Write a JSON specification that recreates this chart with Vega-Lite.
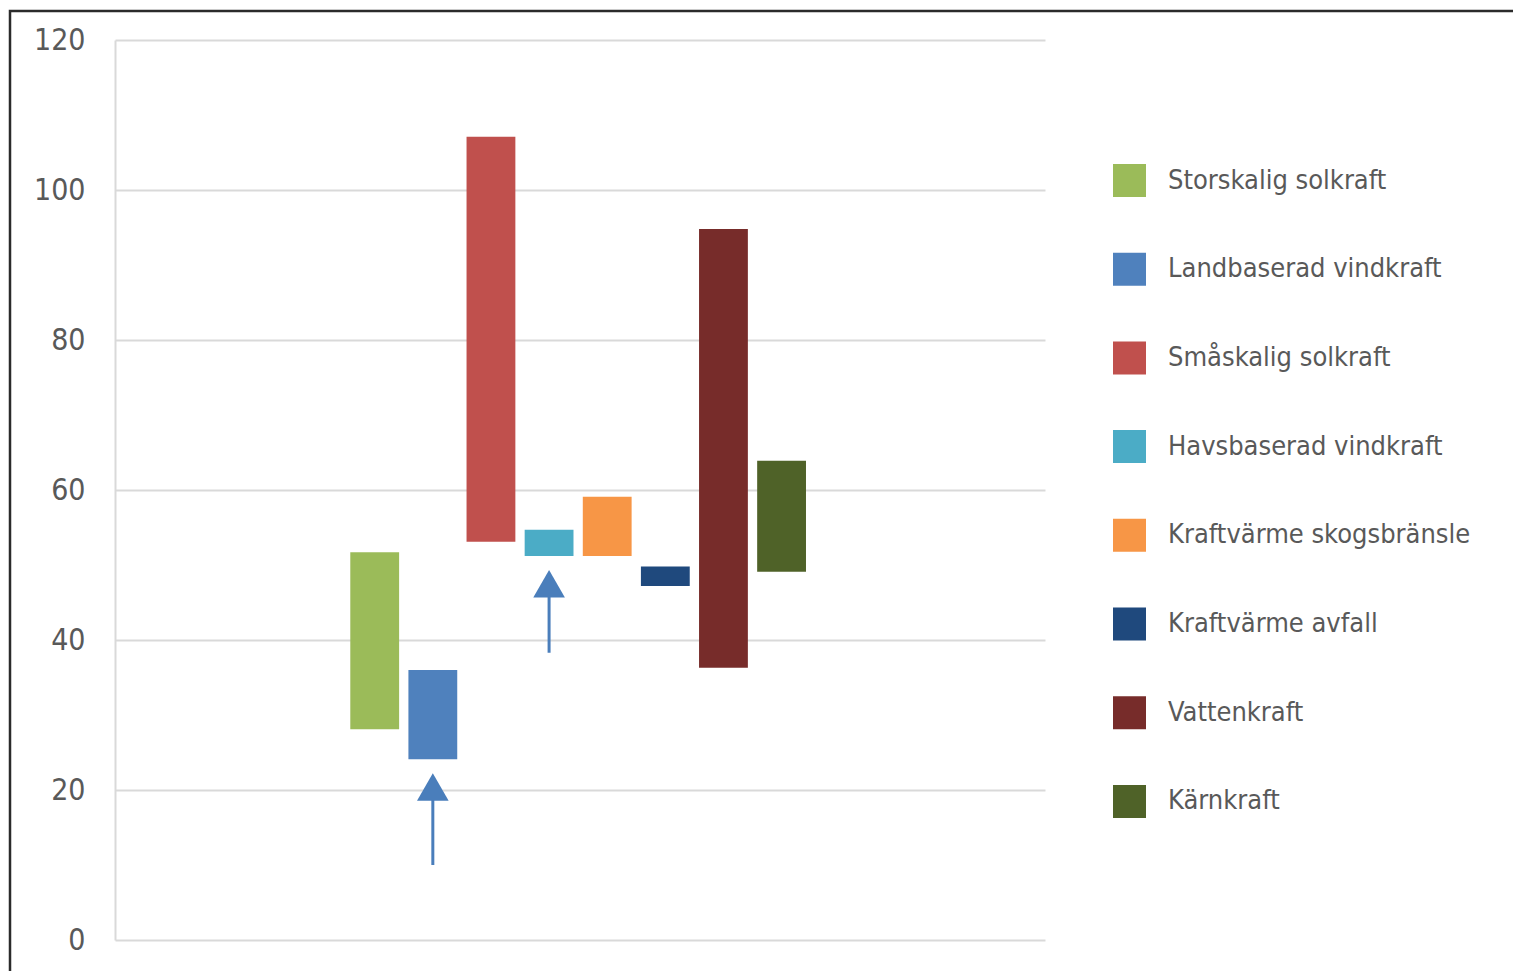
{
  "$schema": "https://vega.github.io/schema/vega-lite/v6.json",
  "width": 1508,
  "height": 965,
  "autosize": {"type": "none"},
  "padding": {"left": 10, "top": 11, "right": 0, "bottom": 0},
  "background": "white",
  "config": {
    "view": {"stroke": "#2b2b2b", "strokeWidth": 2.5},
    "font": "'DejaVu Sans Condensed', Roboto, sans-serif"
  },
  "datasets": {
    "bars": [
      {"kalla": "Storskalig solkraft", "fran": 28.1, "till": 51.7},
      {"kalla": "Landbaserad vindkraft", "fran": 24.1, "till": 36.0},
      {"kalla": "Småskalig solkraft", "fran": 53.1, "till": 107.1},
      {"kalla": "Havsbaserad vindkraft", "fran": 51.2, "till": 54.7},
      {"kalla": "Kraftvärme skogsbränsle", "fran": 51.2, "till": 59.1},
      {"kalla": "Kraftvärme avfall", "fran": 47.2, "till": 49.8},
      {"kalla": "Vattenkraft", "fran": 36.3, "till": 94.8},
      {"kalla": "Kärnkraft", "fran": 49.1, "till": 63.9}
    ],
    "pilar": [
      {"kalla": "Landbaserad vindkraft", "fran": 10.0, "till": 20.4, "spets": 20.4},
      {"kalla": "Havsbaserad vindkraft", "fran": 38.3, "till": 47.5, "spets": 47.5}
    ]
  },
  "layer": [
    {
      "data": {"name": "bars"},
      "mark": {"type": "bar"},
      "encoding": {
        "x": {
          "field": "kalla",
          "type": "nominal",
          "sort": null,
          "scale": {
            "domain": ["_a", "_b", "_c", "_d", "Storskalig solkraft", "Landbaserad vindkraft", "Småskalig solkraft", "Havsbaserad vindkraft", "Kraftvärme skogsbränsle", "Kraftvärme avfall", "Vattenkraft", "Kärnkraft", "_e", "_f", "_g", "_h"],
            "range": [105, 1035],
            "paddingInner": 0.16,
            "paddingOuter": 0.08,
            "align": 0.3
          },
          "axis": null
        },
        "y": {
          "field": "fran",
          "type": "quantitative",
          "title": null,
          "scale": {"domain": [0, 120], "range": [929, 29], "nice": false, "zero": false},
          "axis": {
            "values": [0, 20, 40, 60, 80, 100, 120],
            "grid": true,
            "gridColor": "#d9d9d9",
            "gridWidth": 2,
            "domain": true,
            "domainColor": "#d9d9d9",
            "domainWidth": 2,
            "ticks": false,
            "labelPadding": 30,
            "offset": -105,
            "labelFontSize": 30,
            "labelColor": "#595959",
            "labelFont": "'DejaVu Sans Condensed', Roboto, sans-serif",
            "title": null
          }
        },
        "y2": {"field": "till"},
        "color": {
          "field": "kalla",
          "type": "nominal",
          "sort": null,
          "scale": {
            "domain": ["Storskalig solkraft", "Landbaserad vindkraft", "Småskalig solkraft", "Havsbaserad vindkraft", "Kraftvärme skogsbränsle", "Kraftvärme avfall", "Vattenkraft", "Kärnkraft"],
            "range": ["#9BBB59", "#4F81BD", "#C0504D", "#4BACC6", "#F79646", "#1F497D", "#772C2A", "#4F6228"]
          },
          "legend": {
            "orient": "none",
            "legendX": 1103,
            "legendY": 153,
            "title": null,
            "symbolType": "square",
            "symbolSize": 1089,
            "symbolStrokeWidth": 0,
            "symbolOpacity": 1,
            "labelFontSize": 27,
            "labelFont": "'DejaVu Sans Condensed', Roboto, sans-serif",
            "labelColor": "#595959",
            "labelOffset": 22,
            "rowPadding": 55.7,
            "padding": 0,
            "labelLimit": 400
          }
        }
      }
    },
    {
      "data": {"name": "pilar"},
      "mark": {"type": "rule", "color": "#4A7EBB", "strokeWidth": 3},
      "encoding": {
        "x": {"field": "kalla", "type": "nominal"},
        "y": {"field": "fran", "type": "quantitative", "title": null},
        "y2": {"field": "till"}
      }
    },
    {
      "data": {"name": "pilar"},
      "mark": {"type": "point", "shape": "triangle-up", "filled": true, "size": 1000, "color": "#4A7EBB", "opacity": 1, "strokeWidth": 0},
      "encoding": {
        "x": {"field": "kalla", "type": "nominal"},
        "y": {"field": "spets", "type": "quantitative", "title": null}
      }
    }
  ]
}
